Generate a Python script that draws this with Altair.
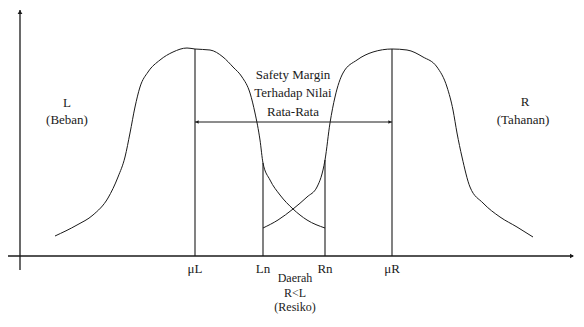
import altair as alt
import pandas as pd

# L (Beban) curve: x offset from vertical axis, height above horizontal axis
L_x = [35, 57, 73, 88, 98, 105, 110, 115, 120, 128, 140, 153, 167, 175, 190, 203, 213, 222, 230, 235, 240, 243, 250, 260, 273, 287, 305]
L_y = [20, 31, 41, 58, 79, 99, 123, 149, 169, 184, 196, 204, 208, 207, 206, 199, 189, 179, 163, 143, 116, 93, 76, 61, 47, 36, 28]
# R (Tahanan) curve
R_x = [243, 258, 273, 287, 297, 305, 310, 315, 323, 337, 353, 372, 387, 403, 417, 427, 433, 437, 442, 450, 463, 480, 497, 513]
R_y = [28, 36, 47, 59, 69, 96, 133, 159, 183, 196, 204, 207, 206, 199, 189, 169, 146, 123, 99, 69, 53, 39, 29, 19]

# vertical markers
mark_names = ["μL", "Ln", "Rn", "μR"]
mark_x = [175, 243, 305, 372]
mark_top = [207, 93, 96, 207]

# safety margin arrow
arrow_y = 134
arrow_from = 175
arrow_to = 372

# annotation texts
text_lines = ["L", "(Beban)", "R", "(Tahanan)", "Safety Margin", "Terhadap Nilai", "Rata-Rata"]
text_x = [47, 47, 505, 503, 273, 273, 273]
text_y = [153, 136, 154, 136, 181, 163, 144]
low_lines = ["Daerah", "R<L", "(Resiko)"]
low_x = [275, 275, 275]
low_y = [-22, -36.5, -51]

W, H = 568, 306
XD = [-12, -12 + W]
YD = [248 - H, 248]
xs = alt.Scale(domain=XD, nice=False, zero=False)
ys = alt.Scale(domain=YD, nice=False, zero=False)
INK = "#1a1a1a"
FONT = "Liberation Serif, Times New Roman, DejaVu Serif, serif"

curves = pd.DataFrame(
    [{"x": a, "y": b, "s": "L"} for a, b in zip(L_x, L_y)]
    + [{"x": a, "y": b, "s": "R"} for a, b in zip(R_x, R_y)]
)
markers = pd.DataFrame({"name": mark_names, "x": mark_x, "top": mark_top, "bottom": [0] * 4})
axes_df = pd.DataFrame({"x": [0, -13], "x2": [0, 553], "y": [-14, 0], "y2": [246, 0]})
arrow_df = pd.DataFrame({"x": [arrow_from], "x2": [arrow_to], "y": [arrow_y]})
heads = pd.DataFrame({"x": [arrow_from + 2, arrow_to - 2], "y": [arrow_y, arrow_y],
                      "shape": ["triangle-left", "triangle-right"]})
axis_heads = pd.DataFrame({"x": [0, 552], "y": [244, 0], "shape": ["triangle-up", "triangle-right"]})
texts = pd.DataFrame({"t": text_lines, "x": text_x, "y": text_y})
lows = pd.DataFrame({"t": low_lines, "x": low_x, "y": low_y})
ticklab = pd.DataFrame({"t": mark_names, "x": mark_x, "y": [-13] * 4})

X = lambda f="x": alt.X(f"{f}:Q", scale=xs, axis=None)
Y = lambda f="y": alt.Y(f"{f}:Q", scale=ys, axis=None)

axes_layer = alt.Chart(axes_df).mark_rule(color=INK, strokeWidth=1.3).encode(
    x=X(), x2="x2:Q", y=Y(), y2="y2:Q")
curve_layer = alt.Chart(curves).mark_line(color=INK, strokeWidth=1, interpolate="monotone").encode(
    x=X(), y=Y(), detail="s:N", order="x:Q")
marker_layer = alt.Chart(markers).mark_rule(color=INK, strokeWidth=1.1).encode(
    x=X(), y=Y("bottom"), y2="top:Q")
arrow_layer = alt.Chart(arrow_df).mark_rule(color=INK, strokeWidth=1).encode(
    x=X(), x2="x2:Q", y=Y())
head_layer = alt.Chart(heads).mark_point(filled=True, color=INK, size=14, opacity=1).encode(
    x=X(), y=Y(), shape=alt.Shape("shape:N", scale=None))
axis_head_layer = alt.Chart(axis_heads).mark_point(filled=True, color=INK, size=22, opacity=1).encode(
    x=X(), y=Y(), shape=alt.Shape("shape:N", scale=None))
text_layer = alt.Chart(texts).mark_text(font=FONT, fontSize=13, color=INK,
                                         baseline="middle", align="center").encode(
    x=X(), y=Y(), text="t:N")
low_layer = alt.Chart(lows).mark_text(font=FONT, fontSize=12, color=INK,
                                       baseline="middle", align="center").encode(
    x=X(), y=Y(), text="t:N")
tick_layer = alt.Chart(ticklab).mark_text(font=FONT, fontSize=13, color=INK,
                                           baseline="middle", align="center").encode(
    x=X(), y=Y(), text="t:N")

chart = alt.layer(axes_layer, curve_layer, marker_layer, arrow_layer, head_layer,
                  axis_head_layer, text_layer, low_layer, tick_layer).properties(
    width=W, height=H, padding=0, autosize=alt.AutoSizeParams(type="none"),
    background="white"
).configure_view(stroke=None)

chart.save("out.html", embed_options={"renderer": "svg", "actions": False})
